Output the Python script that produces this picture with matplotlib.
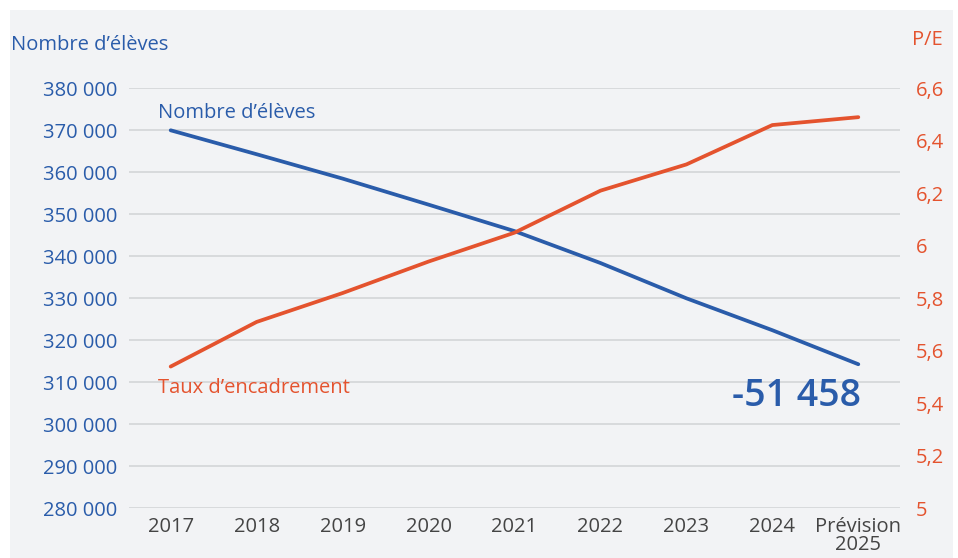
import numpy as np
import matplotlib
matplotlib.use("Agg")
import matplotlib.pyplot as plt
from matplotlib.patches import Rectangle
from matplotlib.transforms import ScaledTranslation

# Données
annees = ["2017", "2018", "2019", "2020", "2021", "2022", "2023", "2024", "Prévision\n2025"]
eleves = [370000, 364300, 358500, 352300, 346000, 338400, 330000, 322400, 314300]
taux = [5.54, 5.71, 5.82, 5.94, 6.05, 6.21, 6.31, 6.46, 6.49]
ticks_gauche = list(range(280000, 380001, 10000))
ticks_droite = [5, 5.2, 5.4, 5.6, 5.8, 6, 6.2, 6.4, 6.6]

BLEU = "#2a5caa"
ORANGE = "#e4532e"
GRIS = "#444444"
FOND = "#f2f3f5"
TAILLE = 14.5

plt.rcParams["font.family"] = ["Open Sans", "DejaVu Sans"]

W, H = 958, 558
fig = plt.figure(figsize=(W / 100, H / 100), dpi=100)
fig.patch.set_facecolor("white")

# Panneau gris de fond
fig.patches.append(Rectangle((10 / W, 0), 943 / W, 548 / H, transform=fig.transFigure,
                             facecolor=FOND, edgecolor="none", zorder=-10))

ax = fig.add_axes([129 / W, (H - 508.3) / H, 771 / W, 420 / H])
ax.set_facecolor("none")
x = np.arange(len(annees))

ax.plot(x, eleves, color=BLEU, lw=2.7, solid_capstyle="round", zorder=3)
ax.set_xlim(-0.485, 8.485)
ax.set_ylim(280000, 380000)
ax.set_yticks(ticks_gauche)
ax.set_yticklabels([f"{v:,.0f}".replace(",", " ") for v in ticks_gauche],
                   color=BLEU, fontsize=TAILLE)
ax.grid(axis="y", color="#d3d5d8", lw=1.2)
ax.set_axisbelow(True)
ax.set_xticks(x)
ax.set_xticklabels(annees, color=GRIS, fontsize=TAILLE, linespacing=0.85)
off = ScaledTranslation(9 / 100, 0, fig.dpi_scale_trans)
for lab in ax.get_xticklabels():
    lab.set_transform(lab.get_transform() + off)
ax.tick_params(axis="both", length=0)
ax.tick_params(axis="y", pad=8.5)
ax.tick_params(axis="x", pad=6.5)
for s in ax.spines.values():
    s.set_visible(False)

ax2 = ax.twinx()
ax2.plot(x, taux, color=ORANGE, lw=2.7, solid_capstyle="round", zorder=3)
ax2.set_ylim(5, 6.6)
ax2.set_yticks(ticks_droite)
ax2.set_yticklabels([f"{v:g}".replace(".", ",") for v in ticks_droite],
                    color=ORANGE, fontsize=TAILLE)
ax2.tick_params(axis="y", length=0, pad=11.5)
for s in ax2.spines.values():
    s.set_visible(False)

# Titres des axes
fig.text(11 / W, 1 - 50 / H, "Nombre d’élèves", color=BLEU, fontsize=TAILLE, va="baseline")
fig.text(912 / W, 1 - 45 / H, "P/E", color=ORANGE, fontsize=TAILLE, va="baseline")

# Étiquettes des séries
ax.text(-0.148, 373000, "Nombre d’élèves", color=BLEU, fontsize=TAILLE, va="baseline")
ax.text(-0.148, 307450, "Taux d’encadrement", color=ORANGE, fontsize=TAILLE, va="baseline")
ax.text(8.03, 304400, "-51 458", color=BLEU, fontsize=27, fontweight="semibold",
        ha="right", va="baseline")

fig.savefig("out.png", dpi=100, facecolor=fig.get_facecolor())
